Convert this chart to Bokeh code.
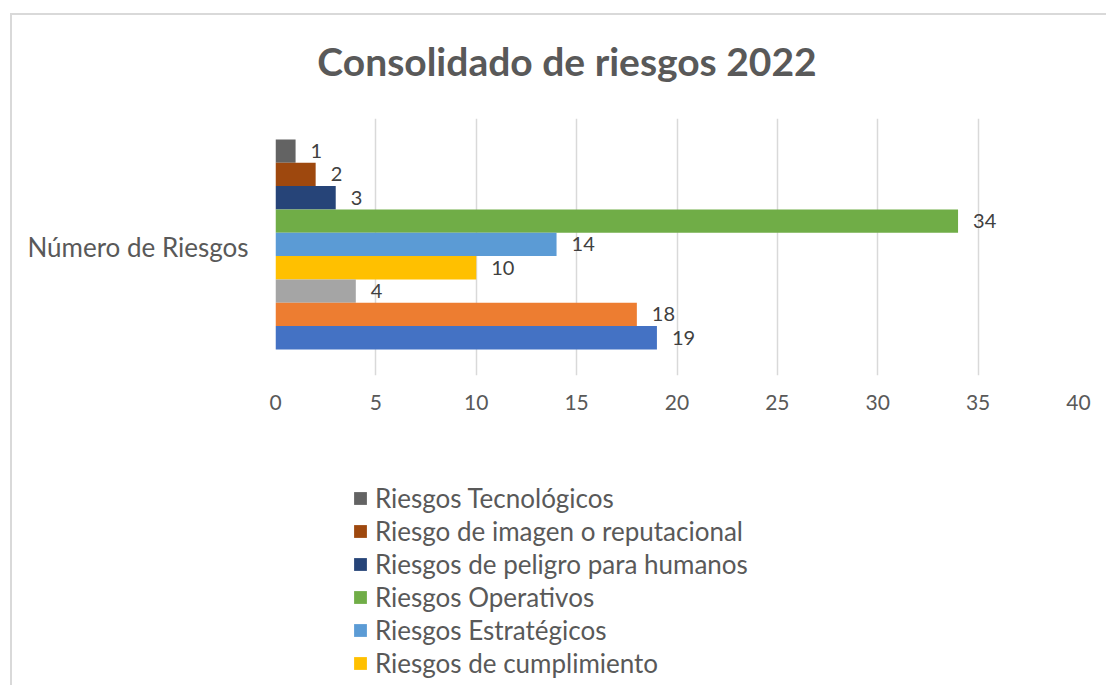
from bokeh.plotting import figure
from bokeh.layouts import column
from bokeh.models import (FactorRange, Range1d, FixedTicker, Legend, LegendItem,
                          ColumnDataSource, Label)
from bokeh.transform import dodge
from bokeh.core.properties import value
from bokeh.embed import file_html
from bokeh.resources import INLINE

# ---- data ----
title_text = "Consolidado de riesgos 2022"
category = ["Número de Riesgos"]
series_names = [
    "Riesgos Tecnológicos",
    "Riesgo de imagen o reputacional",
    "Riesgos de peligro para humanos",
    "Riesgos Operativos",
    "Riesgos Estratégicos",
    "Riesgos de cumplimiento",
    "Serie 7",
    "Serie 8",
    "Serie 9",
]
series_values = [1, 2, 3, 34, 14, 10, 4, 18, 19]
series_colors = ["#636363", "#9E480E", "#264478", "#70AD47", "#5B9BD5",
                 "#FFC000", "#A5A5A5", "#ED7D31", "#4472C4"]
x_ticks = [0, 5, 10, 15, 20, 25, 30, 35, 40]
visible_legend = 6

FONT = "Lato"
TXT = "#595959"
W = 1094

# ---- title strip (axis-less figure on top) ----
pt = figure(width=W, height=103, output_backend="svg", toolbar_location=None,
            x_range=Range1d(0, 1), y_range=Range1d(0, 1),
            x_axis_location=None, y_axis_location=None,
            min_border=0, outline_line_color=None,
            background_fill_color="white", border_fill_color="white")
pt.xgrid.visible = False
pt.ygrid.visible = False
pt.add_layout(Label(x=0.363, y=0.554, text=title_text, text_align="center",
                    text_baseline="alphabetic", text_font=FONT,
                    text_font_style="bold", text_font_size="39px",
                    text_color=TXT))

# ---- main chart ----
p = figure(width=W, height=302, output_backend="svg", toolbar_location=None,
           y_range=FactorRange(*category, range_padding=0),
           x_range=Range1d(0, 40),
           min_border_left=263, min_border_right=28,
           min_border_top=0, min_border_bottom=45,
           background_fill_color="white", border_fill_color="white",
           outline_line_color=None)

bar_h = 0.0908
n = len(series_values)
renderers = []
for i, (name, v, c) in enumerate(zip(series_names, series_values, series_colors)):
    off = (n - 1) / 2 * bar_h - i * bar_h + 0.01
    src = ColumnDataSource(dict(cat=category, val=[v], lab=[str(v)]))
    r = p.hbar(y=dodge("cat", off, range=p.y_range), right="val", left=0,
               height=bar_h, source=src, fill_color=c, line_color=None)
    p.text(x="val", y=dodge("cat", off, range=p.y_range), text="lab", source=src,
           x_offset=15, y_offset=0, text_baseline="middle", text_align="left",
           text_font=value(FONT), text_font_size="20px", text_color="#404040")
    renderers.append(r)

p.xaxis.ticker = FixedTicker(ticks=x_ticks)
p.xaxis.axis_line_color = None
p.xaxis.major_tick_line_color = None
p.xaxis.minor_tick_line_color = None
p.xaxis.major_label_text_font = FONT
p.xaxis.major_label_text_font_size = "21px"
p.xaxis.major_label_text_color = TXT
p.xaxis.major_label_standoff = 13

p.yaxis.axis_line_color = None
p.yaxis.major_tick_line_color = None
p.yaxis.minor_tick_line_color = None
p.yaxis.major_label_text_font = FONT
p.yaxis.major_label_text_font_size = "26px"
p.yaxis.major_label_text_color = TXT
p.yaxis.major_label_standoff = 21

p.xgrid.grid_line_color = "#D9D9D9"
p.xgrid.grid_line_width = 1.5
p.ygrid.grid_line_color = None

# ---- legend strip (axis-less figure below the chart) ----
pl = figure(width=W, height=265, output_backend="svg", toolbar_location=None,
            x_axis_location=None, y_axis_location=None,
            min_border=0, outline_line_color=None,
            background_fill_color="white", border_fill_color="white")
pl.xgrid.visible = False
pl.ygrid.visible = False
leg_renderers = []
for i in range(visible_legend):
    lr = pl.hbar(y=[0], left=[0], right=[0], height=0,
                 fill_color=series_colors[i], line_color=None)
    leg_renderers.append(lr)
items = [LegendItem(label=series_names[i], renderers=[leg_renderers[i]])
         for i in range(visible_legend)]
legend = Legend(items=items, location=(77, 6), orientation="vertical",
                label_text_font=FONT, label_text_font_size="26px",
                label_text_color=TXT, glyph_width=16, glyph_height=16,
                label_height=33, spacing=0, padding=0, margin=0,
                border_line_color=None, background_fill_alpha=0,
                label_standoff=7)
pl.add_layout(legend)

layout = column(pt, p, pl, spacing=0)
layout.margin = (13, 0, 0, 10)
layout.styles = {"border-top": "2px solid #D9D9D9", "border-left": "2px solid #D9D9D9"}

open("out.html", "w").write(file_html(layout, INLINE))
